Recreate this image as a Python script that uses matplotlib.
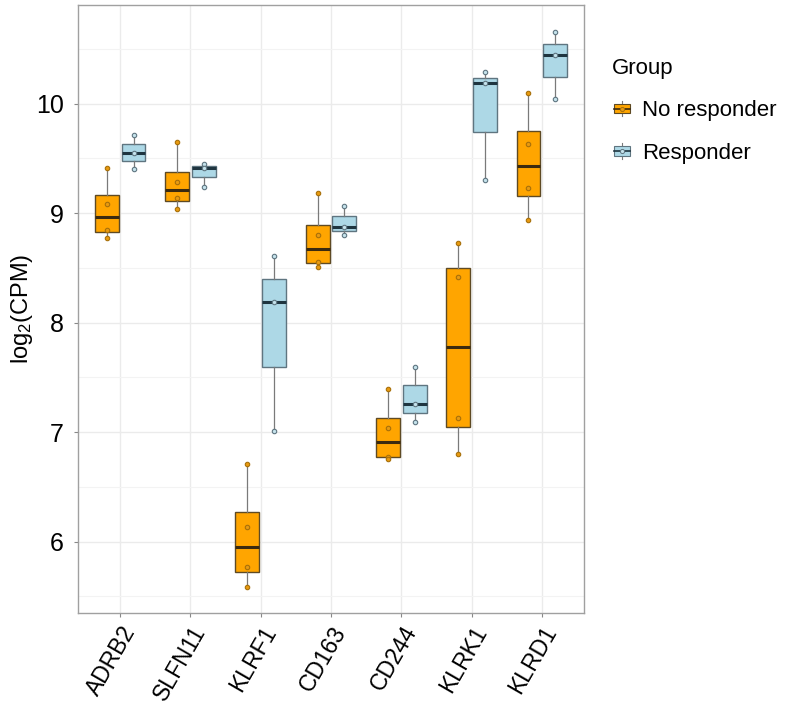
import numpy as np
import matplotlib
matplotlib.use("Agg")
import matplotlib.pyplot as plt
from matplotlib.legend_handler import HandlerBase
from matplotlib.patches import Rectangle
from matplotlib.lines import Line2D

plt.rcParams['font.family'] = ['Liberation Sans', 'DejaVu Sans']
plt.rcParams['mathtext.default'] = 'regular'

# 数据
genes = ["ADRB2", "SLFN11", "KLRF1", "CD163", "CD244", "KLRK1", "KLRD1"]
no_responder = [
    [9.41, 9.08, 8.845, 8.77],
    [9.65, 9.28, 9.135, 9.04],
    [6.705, 6.13, 5.765, 5.58],
    [9.18, 8.80, 8.55, 8.51],
    [7.395, 7.04, 6.775, 6.755],
    [8.725, 8.42, 7.125, 6.795],
    [10.095, 9.635, 9.225, 8.935],
]
responder = [
    [9.71, 9.545, 9.40],
    [9.445, 9.41, 9.24],
    [8.61, 8.185, 7.01],
    [9.065, 8.875, 8.795],
    [7.595, 7.26, 7.09],
    [10.29, 10.185, 9.30],
    [10.65, 10.445, 10.04],
]
group_names = ["No responder", "Responder"]

styles = {
    "No responder": dict(fill='#FFA500', edge='#5e4a24', median='#3a2a10',
                         pt_face='#E89A10', pt_edge='#A8700A'),
    "Responder": dict(fill='#ADD8E6', edge='#5f7580', median='#1f3540',
                      pt_face='#C5E3EC', pt_edge='#5f7580'),
}


class BoxKeyHandler(HandlerBase):
    """图例中的小箱线图"""
    def __init__(self, st):
        super().__init__()
        self.st = st

    def create_artists(self, legend, orig_handle, xdescent, ydescent,
                       width, height, fontsize, trans):
        st = self.st
        cx = width * 0.5 - xdescent
        bw, bh = width * 0.8, height * 0.55
        y0 = -ydescent + (height - bh) / 2
        wl = Line2D([cx, cx], [-ydescent + height * 0.05, height * 0.95 - ydescent],
                    color='#7a7a7a', lw=0.8, transform=trans)
        box = Rectangle((cx - bw / 2, y0), bw, bh, facecolor=st['fill'],
                        edgecolor=st['edge'], lw=0.8, transform=trans)
        med = Line2D([cx - bw / 2, cx + bw / 2], [y0 + bh / 2] * 2,
                     color=st['median'], lw=1.2, transform=trans)
        pt = Line2D([cx], [y0 + bh / 2], marker='o', markersize=3,
                    markerfacecolor=st['pt_face'], markeredgecolor=st['pt_edge'],
                    markeredgewidth=0.7, transform=trans)
        return [wl, box, med, pt]


fig = plt.figure(figsize=(7.87, 7.09), dpi=100)
ax = fig.add_axes([78 / 787, 1 - 613 / 709, (584 - 78) / 787, (613 - 5) / 709])

x = np.arange(len(genes))
offset = 0.19
for data, name, sign in [(no_responder, "No responder", -1),
                         (responder, "Responder", 1)]:
    st = styles[name]
    pos = x + sign * offset
    ax.boxplot(data, positions=pos, widths=0.34, patch_artist=True,
               showcaps=False, showfliers=False, manage_ticks=False,
               boxprops=dict(facecolor=st['fill'], edgecolor=st['edge'], linewidth=1.0),
               medianprops=dict(color=st['median'], linewidth=2.2),
               whiskerprops=dict(color='#7a7a7a', linewidth=0.9),
               zorder=3)
    for p, vals in zip(pos, data):
        ax.plot([p] * len(vals), vals, linestyle='none', marker='o', markersize=3.2,
                markerfacecolor=st['pt_face'], markeredgecolor=st['pt_edge'],
                markeredgewidth=0.8, zorder=4)

ax.set_xlim(-0.6, len(genes) - 0.4)
ax.set_ylim(5.347, 10.9)
ax.set_xticks(x)
ax.set_xticklabels(genes, rotation=60, ha='right', va='top',
                   rotation_mode='anchor', fontsize=16.5)
ax.set_yticks([6, 7, 8, 9, 10])
ax.set_yticks(np.arange(5.5, 11, 1.0), minor=True)
ax.tick_params(axis='y', labelsize=18, color='#888888', length=3, pad=7, which='major')
ax.tick_params(axis='y', which='minor', length=0)
ax.tick_params(axis='x', color='#888888', length=3)
ax.grid(True, which='major', color='#ebebeb', linewidth=1.0, zorder=0)
ax.grid(True, which='minor', axis='y', color='#f3f3f3', linewidth=0.8, zorder=0)
ax.set_axisbelow(True)
for sp in ax.spines.values():
    sp.set_color('#a0a0a0')
    sp.set_linewidth(1.0)

ax.set_ylabel('log$_2$(CPM)', fontsize=17, labelpad=1)

handles = [Rectangle((0, 0), 1, 1), Rectangle((0, 0), 1, 1)]
leg = fig.legend(handles, group_names, title='Group', loc='upper left',
                 bbox_to_anchor=(592 / 787, 1 - 38 / 709), frameon=False,
                 fontsize=16, title_fontsize=16, alignment='left',
                 handlelength=0.9, handleheight=0.8, handletextpad=0.45,
                 labelspacing=0.95,
                 handler_map={handles[0]: BoxKeyHandler(styles["No responder"]),
                              handles[1]: BoxKeyHandler(styles["Responder"])})

plt.savefig('out.png', dpi=100)
plt.close()
